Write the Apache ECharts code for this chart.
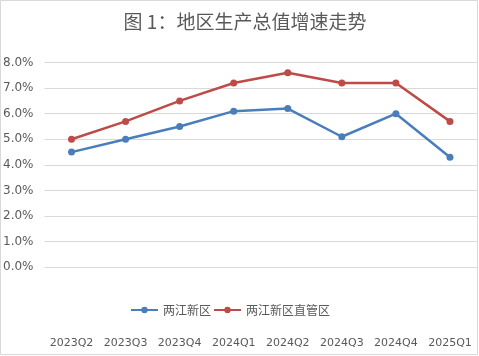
<!DOCTYPE html>
<html><head><meta charset="utf-8">
<script src="https://cdn.jsdelivr.net/npm/echarts@6/dist/echarts.min.js"></script>
<style>html,body{margin:0;padding:0;background:#fff}#c{width:479px;height:356px}</style>
</head><body><div id="c"></div>
<script>
const categories = ['2023Q2','2023Q3','2023Q4','2024Q1','2024Q2','2024Q3','2024Q4','2025Q1'];
const seriesNames = ['两江新区','两江新区直管区'];
const liangjiang = [4.5, 5.0, 5.5, 6.1, 6.2, 5.1, 6.0, 4.3];
const zhiguan = [5.0, 5.7, 6.5, 7.2, 7.6, 7.2, 7.2, 5.7];
const titleText = '图 1：地区生产总值增速走势';

const chart = echarts.init(document.getElementById('c'));
const cjk = '"Noto Sans CJK SC", "DejaVu Sans", sans-serif';
chart.setOption({
  animation: false,
  backgroundColor: '#fff',
  graphic: [{type:'rect', shape:{x:0.5,y:0.5,width:477,height:354}, style:{fill:'none', stroke:'#d9d9d9', lineWidth:1}, silent:true, z:-1}],
  title: {text: titleText, left: 240, textAlign: 'center', top: 7,
    textStyle: {fontFamily: cjk, fontSize: 19, fontWeight: 'normal', color: '#595959'}},
  legend: {left: 125, top: 299, itemWidth: 27, itemHeight: 8, itemGap: 2,
    textStyle: {fontFamily: cjk, fontSize: 12, color: '#595959'},
    data: seriesNames},
  grid: {left: 43, right: 2, top: 62.5, bottom: 88.7, containLabel: false},
  xAxis: {type: 'category', data: categories, boundaryGap: true,
    axisLine: {show: false}, axisTick: {show: false},
    axisLabel: {margin: 70, interval: 0, fontFamily: 'DejaVu Sans', fontSize: 11, color: '#595959'}},
  yAxis: {type: 'value', min: 0, max: 8, interval: 1,
    axisLine: {show: false}, axisTick: {show: false},
    splitLine: {lineStyle: {color: '#d9d9d9', width: 1}},
    axisLabel: {margin: 11, fontFamily: 'DejaVu Sans', fontSize: 12, color: '#595959',
      formatter: v => v.toFixed(1) + '%'}},
  series: [
    {name: seriesNames[0], type: 'line', data: liangjiang, symbol: 'circle', symbolSize: 7,
      lineStyle: {width: 2.5, color: '#4a7ebb'}, itemStyle: {color: '#4a7ebb'}},
    {name: seriesNames[1], type: 'line', data: zhiguan, symbol: 'circle', symbolSize: 7,
      lineStyle: {width: 2.5, color: '#be4b48'}, itemStyle: {color: '#be4b48'}}
  ]
});
</script></body></html>
